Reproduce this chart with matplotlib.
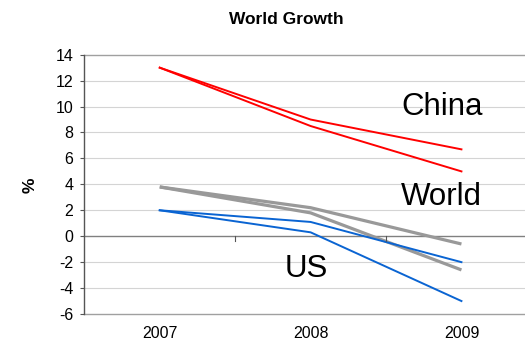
import matplotlib
matplotlib.use("Agg")
import matplotlib.pyplot as plt
from matplotlib.transforms import blended_transform_factory

plt.rcParams['font.family'] = ['Liberation Sans', 'DejaVu Sans']
plt.rcParams['axes.unicode_minus'] = False

years = ['2007', '2008', '2009']
china_a = [13.0, 9.0, 6.7]
china_b = [13.0, 8.5, 5.0]
world_a = [3.8, 2.2, -0.6]
world_b = [3.8, 1.8, -2.6]
us_a = [2.0, 1.1, -2.0]
us_b = [2.0, 0.3, -5.0]
yticks = list(range(-6, 15, 2))

fig = plt.figure(figsize=(5.25, 3.48), dpi=100)
ax = fig.add_axes([0.1606, 0.0977, 0.862, 0.7451])

x = range(len(years))
ax.plot(x, world_a, color='#999999', lw=2.3, solid_capstyle='butt')
ax.plot(x, world_b, color='#999999', lw=2.3, solid_capstyle='butt')
ax.plot(x, us_a, color='#0a64d2', lw=1.4)
ax.plot(x, us_b, color='#0a64d2', lw=1.4)
ax.plot(x, china_a, color='#ff0000', lw=1.4)
ax.plot(x, china_b, color='#ff0000', lw=1.4)

ax.set_xlim(-0.5, 2.5)
ax.set_ylim(-6, 14)
ax.set_yticks(yticks)
ax.tick_params(axis='y', length=3, width=0.8, color='#555555', pad=5, labelsize=11.5)
for y in yticks:
    if y in (-6, 14):
        c = '#a0a0a0'
    elif y == 0:
        c = '#808080'
    else:
        c = '#d4d4d4'
    ax.axhline(y, color=c, lw=1.0 if y in (-6, 14, 0) else 0.8, zorder=0.5, clip_on=False)

for s in ('top', 'right', 'bottom'):
    ax.spines[s].set_visible(False)
ax.spines['left'].set_color('#555555')
ax.spines['left'].set_linewidth(1.0)

# category axis crosses at zero, labels sit at the bottom
ax.set_xticks([])
tr = blended_transform_factory(ax.transData, ax.transData)
for xb in [0.5, 1.5]:
    ax.plot([xb, xb], [0, -0.35], color='#555555', lw=0.8, transform=tr)
for i, yr in enumerate(years):
    ax.text(i, -6.9, yr, ha='center', va='top', fontsize=11.5)

ax.text(1.87, 10.0, 'China', ha='center', va='center', fontsize=22.5)
ax.text(1.87, 3.0, 'World', ha='center', va='center', fontsize=22.5)
ax.text(0.97, -2.55, 'US', ha='center', va='center', fontsize=22.5)

fig.text(0.545, 0.945, 'World Growth', ha='center', va='center', fontsize=12.5, fontweight='bold')
fig.text(0.058, 0.468, '%', ha='center', va='center', fontsize=12.5, fontweight='bold', rotation=90)

fig.savefig('out.png', dpi=100)
